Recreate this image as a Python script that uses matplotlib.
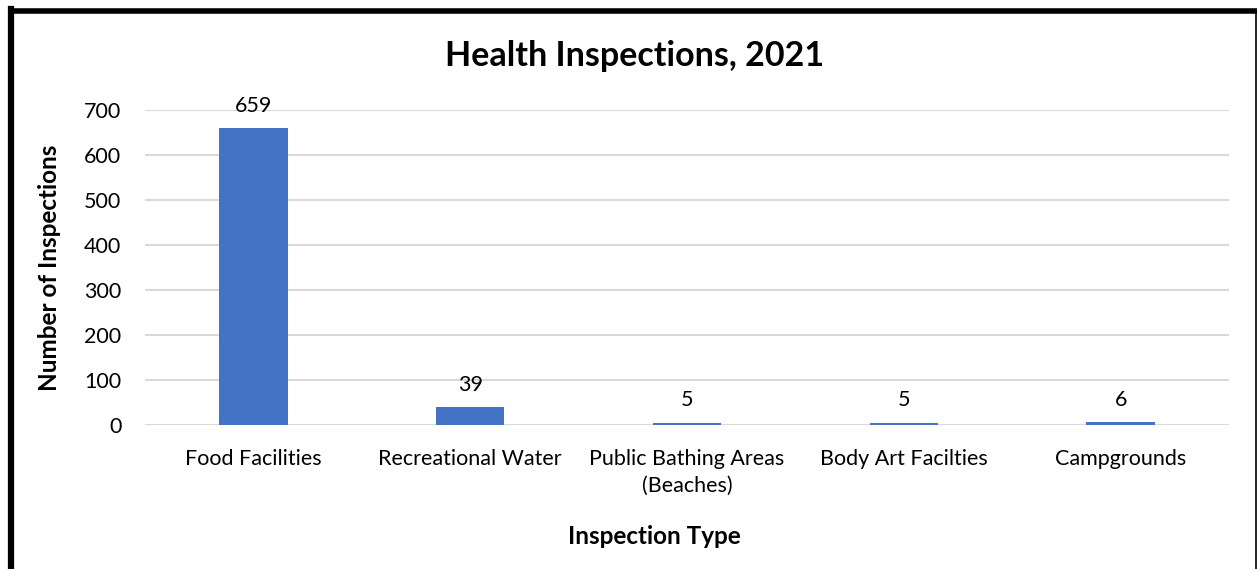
import matplotlib.pyplot as plt
from matplotlib.lines import Line2D

categories = ["Food Facilities", "Recreational Water", "Public Bathing Areas\n(Beaches)",
              "Body Art Facilties", "Campgrounds"]
inspections = [659, 39, 5, 5, 6]
yticks = [0, 100, 200, 300, 400, 500, 600, 700]

plt.rcParams['font.family'] = ['Lato', 'DejaVu Sans']

fig = plt.figure(figsize=(12.57, 5.69), dpi=100)
ax = fig.add_axes([145/1257, 1 - 425/569, (1229 - 145)/1257, (425 - 110)/569])

x = range(len(categories))
bars = ax.bar(x, inspections, width=0.315, color="#4472C4", zorder=3)
for xi, v in zip(x, inspections):
    ax.annotate(str(v), (xi, v), xytext=(0, 9), textcoords="offset points",
                ha="center", va="bottom", fontsize=15.5)

ax.set_xlim(-0.5, len(categories) - 0.5)
ax.set_ylim(0, 700)
ax.set_yticks(yticks)
ax.set_xticks(list(x))
ax.set_xticklabels(categories, fontsize=15.5, linespacing=1.45)
ax.tick_params(axis="y", labelsize=15.5, length=0, pad=17)
ax.tick_params(axis="x", length=0, pad=17)
ax.grid(axis="y", color="#d9d9d9", linewidth=1.5, zorder=0)
for s in ax.spines.values():
    s.set_visible(False)

ax.set_ylabel("Number of Inspections", fontsize=17.5, fontweight="bold", labelpad=17)
ax.set_xlabel("Inspection Type", fontsize=17.5, fontweight="bold")
ax.xaxis.set_label_coords((654 - 145) / 1084, -(536 - 425) / 315, transform=ax.transAxes)
ax.xaxis.label.set_va("center")
fig.text(635/1257, 1 - 56/569, "Health Inspections, 2021", ha="center", va="center",
         fontsize=24.5, fontweight="bold")

# frame around the chart
fig.add_artist(Line2D([11/1257, 1], [1 - 10.5/569, 1 - 10.5/569], color="black", linewidth=4))
fig.add_artist(Line2D([11/1257, 11/1257], [0, 1 - 9/569], color="black", linewidth=4.5))
fig.add_artist(Line2D([1255.5/1257, 1255.5/1257], [0, 1 - 10/569], color="black", linewidth=1.2))

fig.savefig("out.png", dpi=100)
